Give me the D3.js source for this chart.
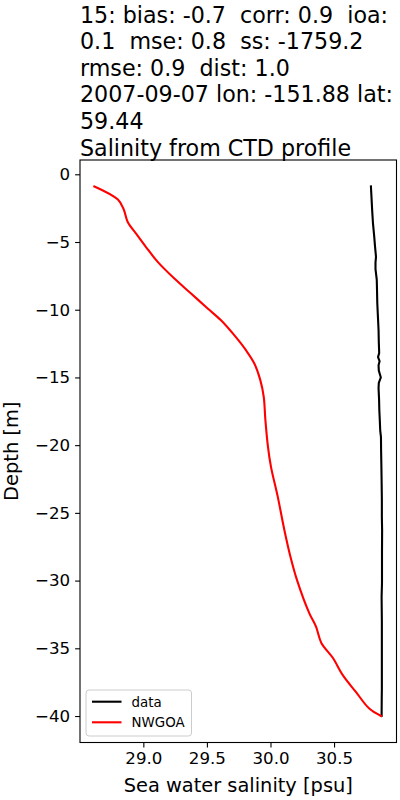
<!DOCTYPE html>
<html><head><meta charset="utf-8">
<script src="https://cdn.jsdelivr.net/npm/d3@7"></script>
<style>body{margin:0;background:#fff}svg{display:block}text{font-family:"DejaVu Sans",sans-serif;white-space:pre}</style>
</head><body><svg id="c" width="400" height="800"></svg>
<script>
const titleLines = ["15: bias: -0.7  corr: 0.9  ioa:", "0.1  mse: 0.8  ss: -1759.2", "rmse: 0.9  dist: 1.0", "2007-09-07 lon: -151.88 lat:", "59.44", "Salinity from CTD profile"];
const seriesNames = ["data", "NWGOA"];
const seriesColors = ["#000000", "#ff0000"];
const xTicks = [29.0, 29.5, 30.0, 30.5];
const yTicks = [0, -5, -10, -15, -20, -25, -30, -35, -40];
const dataDepth = [-0.9, -1.8, -2.7, -3.6, -4.6, -5.3, -6.1, -6.5, -7.0, -7.8, -8.6, -9.5, -10.5, -11.5, -12.4, -13.2, -13.5, -13.8, -14.1, -14.5, -15.0, -15.4, -15.8, -16.6, -17.4, -18.2, -18.9, -19.4, -20.4, -21.4, -22.6, -24.0, -25.3, -26.3, -28.0, -30.2, -31.2, -33.0, -34.9, -36.5, -38.0, -38.7, -40.0];
const dataSal = [30.79, 30.795, 30.80, 30.806, 30.816, 30.822, 30.83, 30.826, 30.826, 30.836, 30.838, 30.84, 30.845, 30.85, 30.852, 30.855, 30.846, 30.858, 30.85, 30.852, 30.868, 30.852, 30.85, 30.854, 30.856, 30.86, 30.863, 30.869, 30.87, 30.872, 30.874, 30.876, 30.876, 30.878, 30.877, 30.877, 30.874, 30.876, 30.876, 30.876, 30.876, 30.875, 30.874];
const modelDepth = [-0.9, -1.87, -2.6, -3.52, -4.38, -5.37, -6.47, -7.7, -8.8, -9.91, -10.78, -11.88, -12.99, -13.97, -15.2, -16.43, -18.15, -20.1, -21.6, -23.8, -26.3, -28.2, -30.0, -32.4, -33.4, -34.6, -35.7, -37.0, -38.2, -39.45, -40.0];
const modelSal = [28.615, 28.80, 28.846, 28.877, 28.943, 29.021, 29.113, 29.244, 29.375, 29.506, 29.611, 29.715, 29.807, 29.873, 29.92, 29.947, 29.96, 29.98, 30.004, 30.057, 30.11, 30.156, 30.21, 30.305, 30.358, 30.40, 30.49, 30.57, 30.67, 30.777, 30.87];

const svg = d3.select("#c");
const L = 80, R = 396.5, T = 160, B = 742.5;
const allSal = dataSal.concat(modelSal), allDep = dataDepth.concat(modelDepth);
const [xmin, xmax] = d3.extent(allSal), [ymin, ymax] = d3.extent(allDep);
const mx = (xmax - xmin) * 0.05, my = (ymax - ymin) * 0.05;
const x = d3.scaleLinear().domain([xmin - mx, xmax + mx]).range([L, R]);
const y = d3.scaleLinear().domain([ymax + my, ymin - my]).range([T, B]);

// title
svg.append("g").selectAll("text").data(titleLines).join("text")
  .attr("x", 80).attr("y", (d, i) => 22.5 + i * 26.6)
  .attr("font-size", "22.2px").attr("fill", "#000").text(d => d);

// axes
const fmtX = d3.format(".1f");
const xa = svg.append("g").attr("transform", `translate(0,${B})`)
  .call(d3.axisBottom(x).tickValues(xTicks).tickFormat(fmtX).tickSize(4.9).tickPadding(4.9));
const ya = svg.append("g").attr("transform", `translate(${L},0)`)
  .call(d3.axisLeft(y).tickValues(yTicks).tickFormat(d3.format("d")).tickSize(4.9).tickPadding(4.9));
[xa, ya].forEach(a => {
  a.select(".domain").remove();
  a.selectAll("line").attr("stroke", "#000").attr("stroke-width", 1.1);
  a.selectAll("text").attr("font-size", "16.67px").attr("font-family", "DejaVu Sans").attr("fill", "#000");
});

// lines
const lineData = d3.line().x(d => x(d[0])).y(d => y(d[1]));
const lineModel = d3.line().x(d => x(d[0])).y(d => y(d[1])).curve(d3.curveCatmullRom.alpha(0.5));
const series = [d3.zip(dataSal, dataDepth), d3.zip(modelSal, modelDepth)];
svg.append("g").selectAll("path").data(series).join("path")
  .attr("d", (d, i) => (i === 0 ? lineData : lineModel)(d)).attr("fill", "none")
  .attr("stroke", (d, i) => seriesColors[i]).attr("stroke-width", 2.1)
  .attr("stroke-linejoin", "round").attr("stroke-linecap", "square");

// frame
svg.append("rect").attr("x", L).attr("y", T).attr("width", R - L).attr("height", B - T)
  .attr("fill", "none").attr("stroke", "#000").attr("stroke-width", 1.1);

// axis labels
svg.append("text").attr("x", (L + R) / 2).attr("y", 792).attr("text-anchor", "middle")
  .attr("font-size", "19.4px").text("Sea water salinity [psu]");
svg.append("text").attr("transform", `translate(17.5,${(T + B) / 2}) rotate(-90)`)
  .attr("text-anchor", "middle").attr("font-size", "19.4px").text("Depth [m]");

// legend
const lg = svg.append("g");
lg.append("rect").attr("x", 86).attr("y", 690).attr("width", 105.5).attr("height", 46)
  .attr("rx", 3).attr("fill", "#fff").attr("fill-opacity", 0.8).attr("stroke", "#cccccc").attr("stroke-width", 1);
seriesNames.forEach((n, i) => {
  const yy = 701.7 + i * 20.6;
  lg.append("line").attr("x1", 92).attr("x2", 121.5).attr("y1", yy).attr("y2", yy)
    .attr("stroke", seriesColors[i]).attr("stroke-width", 2.1);
  lg.append("text").attr("x", 131.5).attr("y", yy + 4.8).attr("font-size", "13.4px").text(n);
});
</script></body></html>
